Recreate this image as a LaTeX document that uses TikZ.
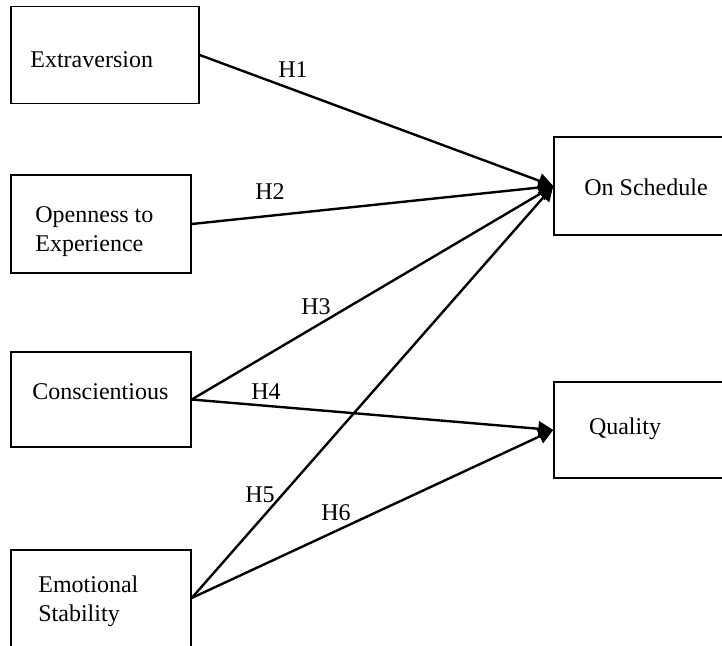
\documentclass[tikz,border=0pt]{standalone}
\usepackage{fontspec}
\setmainfont{Liberation Serif}
\usetikzlibrary{arrows.meta}
\tikzset{
  factor/.style={draw, line width=0.7pt, rectangle, inner sep=0pt},
  txt/.style={font=\fontsize{12}{14.5}\selectfont, inner sep=0pt, align=left},
  hyp/.style={line width=1.2pt, -{Triangle[length=7.5pt,width=7.5pt]}}
}
\begin{document}
\begin{tikzpicture}[x=0.5pt, y=-0.5pt]
    \clip (0,0) rectangle (722,645);
    \fill[white] (0,0) rectangle (722,645);

    % traits
    \node[factor, minimum width=94pt, minimum height=48.5pt] (ext) at (105,55) {};
    \node[factor, minimum width=90pt, minimum height=49pt] (opn) at (101,224) {};
    \node[factor, minimum width=90pt, minimum height=47.5pt] (con) at (101,399.5) {};
    \node[factor, minimum width=90pt, minimum height=51pt] (emo) at (101,601) {};

    \node[txt, anchor=west] (ext-t) at (30,60) {Extraversion};
    \node[txt, anchor=west] (opn-t) at (35,232) {Openness to\\Experience};
    \node[txt, anchor=west] (con-t) at (32,392) {Conscientious};
    \node[txt, anchor=west] (emo-t) at (38,601) {Emotional\\Stability};

    % outcomes
    \node[factor, minimum width=103pt, minimum height=49pt] (sched) at (657,186) {};
    \node[factor, minimum width=103pt, minimum height=48pt] (qual) at (657,430) {};

    \node[txt] (sched-t) at (646,187) {On Schedule};
    \node[txt] (qual-t) at (625,429) {Quality};

    \draw[hyp] (ext.east) -- (sched.west);
    \draw[hyp] (opn.east) -- (sched.west);
    \draw[hyp] (con.east) -- (sched.west);
    \draw[hyp] (con.east) -- (qual.west);
    \draw[hyp] ([yshift=1.5pt]emo.east) -- (sched.west);
    \draw[hyp] ([yshift=1.5pt]emo.east) -- (qual.west);

    \node[txt] (h1) at (293,70) {H1};
    \node[txt] (h2) at (270,192) {H2};
    \node[txt] (h3) at (316,307) {H3};
    \node[txt] (h4) at (266,392) {H4};
    \node[txt] (h5) at (260,495) {H5};
    \node[txt] (h6) at (336,513) {H6};
  \end{tikzpicture}
\end{document}
